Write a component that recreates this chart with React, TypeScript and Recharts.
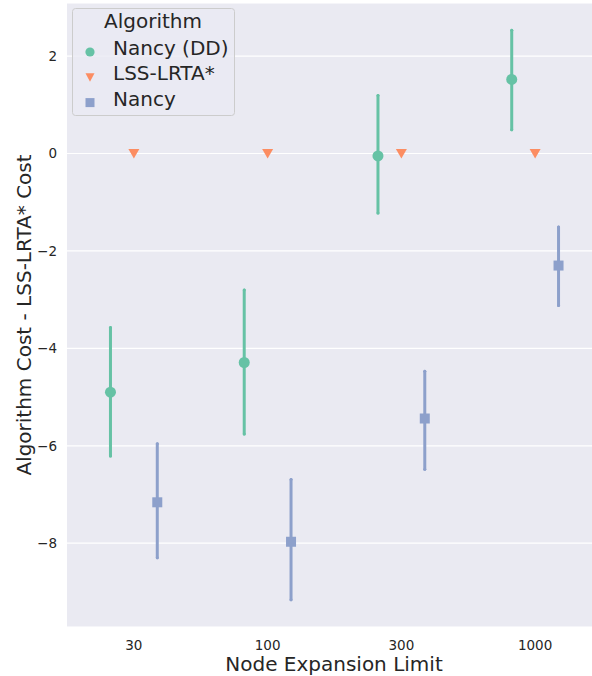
import React from 'react';
import { ScatterChart, Scatter, XAxis, YAxis, CartesianGrid, ErrorBar, Legend } from 'recharts';

const categories = ['30', '100', '300', '1000'];

const nancyDDMean = [-4.9, -4.29, -0.05, 1.52];
const nancyDDLow = [-6.21, -5.76, -1.22, 0.49];
const nancyDDHigh = [-3.57, -2.8, 1.19, 2.53];

const lssMean = [0, 0, 0, 0];

const nancyMean = [-7.16, -7.97, -5.44, -2.3];
const nancyLow = [-8.3, -9.16, -6.48, -3.12];
const nancyHigh = [-5.96, -6.69, -4.47, -1.51];

const yTicks = [-8, -6, -4, -2, 0, 2];

const COLORS = { dd: '#66c2a5', lss: '#fc8d62', nancy: '#8da0cb' };
const DODGE = 0.175;
const FONT = 'DejaVu Sans, sans-serif';

const build = (mean: number[], low: number[] | null, high: number[] | null, offset: number) =>
  mean.map((m, i) => ({
    x: i + offset,
    y: m,
    err: low && high ? [m - low[i], high[i] - m] : [0, 0],
  }));

const ddData = build(nancyDDMean, nancyDDLow, nancyDDHigh, -DODGE);
const lssData = build(lssMean, null, null, 0);
const nancyData = build(nancyMean, nancyLow, nancyHigh, DODGE);

const Circle = (p: any) => <circle cx={p.cx} cy={p.cy} r={5.5} fill={COLORS.dd} />;
const TriDown = (p: any) => (
  <path d={`M${p.cx - 5.5},${p.cy - 4.5} L${p.cx + 5.5},${p.cy - 4.5} L${p.cx},${p.cy + 5} Z`} fill={COLORS.lss} />
);
const Square = (p: any) => <rect x={p.cx - 5} y={p.cy - 5} width={10} height={10} fill={COLORS.nancy} />;

const legendItems = [
  { name: 'Nancy (DD)', kind: 'circle', color: COLORS.dd },
  { name: 'LSS-LRTA*', kind: 'tri', color: COLORS.lss },
  { name: 'Nancy', kind: 'square', color: COLORS.nancy },
];

const renderLegend = () => (
  <svg width={164} height={109} style={{ display: 'block', fontFamily: FONT }}>
    <rect x={0.5} y={0.5} width={162} height={107} rx={3} fill="rgba(234,234,242,0.8)" stroke="#cccccc" strokeWidth={1} />
    <text x={81} y={20} textAnchor="middle" fontSize={20} fill="#262626">
      Algorithm
    </text>
    {legendItems.map((it, i) => {
      const cy = 44 + i * 25.3;
      return (
        <g key={it.name}>
          {it.kind === 'circle' && <circle cx={18} cy={cy} r={4.6} fill={it.color} />}
          {it.kind === 'tri' && <path d={`M13.5,${cy - 4} L22.5,${cy - 4} L18,${cy + 4.5} Z`} fill={it.color} />}
          {it.kind === 'square' && <rect x={13.5} y={cy - 4.5} width={9} height={9} fill={it.color} />}
          <text x={41} y={cy + 3} fontSize={20} fill="#262626">
            {it.name}
          </text>
        </g>
      );
    })}
  </svg>
);

export default function App() {
  return (
    <div style={{ position: 'absolute', left: 0, top: 0, width: 592, height: 676, overflow: 'hidden', background: '#fff' }}>
      <ScatterChart
        width={602}
        height={676}
        margin={{ top: 3, right: 0, bottom: 0, left: 0 }}
        style={{ fontFamily: FONT }}
      >
        <CartesianGrid horizontal vertical={false} stroke="#ffffff" strokeWidth={1.2} fill="#eaeaf2" />
        <XAxis
          type="number"
          dataKey="x"
          domain={[-0.5, 3.5]}
          ticks={[0, 1, 2, 3]}
          tickFormatter={(v: number) => categories[v]}
          allowDataOverflow
          axisLine={false}
          tickLine={false}
          tickSize={6}
          tickMargin={7}
          height={49}
          tick={{ fontSize: 13.5, fill: '#262626', fontFamily: FONT }}
          label={{
            content: () => (
              <text x={334} y={671} textAnchor="middle" fontSize={20} fill="#262626" fontFamily={FONT}>
                Node Expansion Limit
              </text>
            ),
          }}
        />
        <YAxis
          type="number"
          dataKey="y"
          domain={[-9.72, 3.09]}
          ticks={yTicks}
          allowDataOverflow
          tickFormatter={(v: number) => (v < 0 ? '\u2212' + Math.abs(v) : String(v))}
          axisLine={false}
          tickLine={false}
          tickSize={6}
          tickMargin={4}
          width={67}
          tick={{ fontSize: 13.5, fill: '#262626', fontFamily: FONT }}
          label={{
            content: () => (
              <text x={31} y={315} transform="rotate(-90 31 315)" textAnchor="middle" fontSize={20} fill="#262626" fontFamily={FONT}>
                Algorithm Cost - LSS-LRTA* Cost
              </text>
            ),
          }}
        />
        <Legend
          layout="vertical"
          align="center"
          verticalAlign="middle"
          content={renderLegend}
          wrapperStyle={{ left: 72, top: 8, width: 164, height: 109 }}
        />
        <Scatter name="Nancy (DD)" data={ddData} shape={Circle} fill={COLORS.dd} isAnimationActive={false}>
          <ErrorBar dataKey="err" direction="y" width={0} stroke={COLORS.dd} strokeWidth={3} strokeLinecap="round" />
        </Scatter>
        <Scatter name="LSS-LRTA*" data={lssData} shape={TriDown} fill={COLORS.lss} isAnimationActive={false} />
        <Scatter name="Nancy" data={nancyData} shape={Square} fill={COLORS.nancy} isAnimationActive={false}>
          <ErrorBar dataKey="err" direction="y" width={0} stroke={COLORS.nancy} strokeWidth={3} strokeLinecap="round" />
        </Scatter>
      </ScatterChart>
    </div>
  );
}
